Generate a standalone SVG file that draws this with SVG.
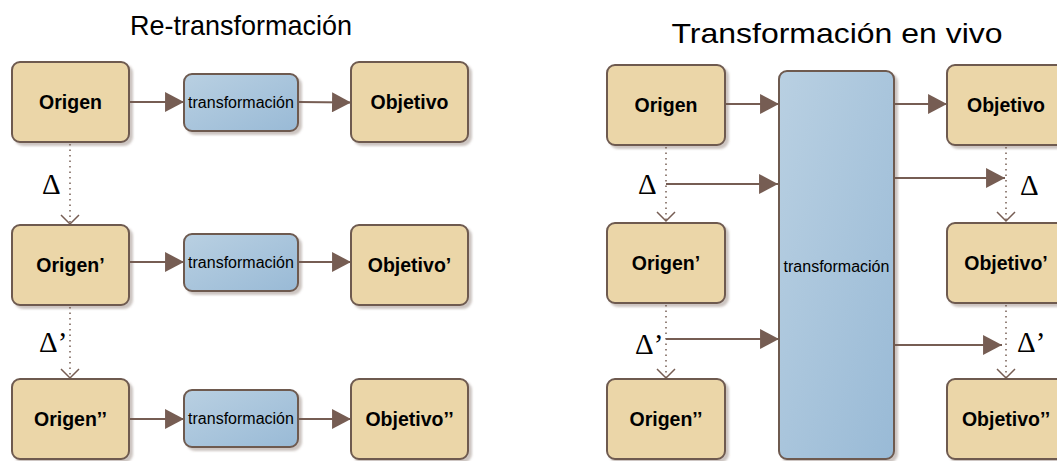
<svg xmlns="http://www.w3.org/2000/svg" width="1057" height="461" viewBox="0 0 1057 461">
<defs>
  <linearGradient id="blue" x1="0" y1="0" x2="1" y2="1">
    <stop offset="0" stop-color="#b9d0e2"/>
    <stop offset="1" stop-color="#99bad6"/>
  </linearGradient>
  <filter id="sh" x="-10%" y="-10%" width="130%" height="130%">
    <feDropShadow dx="3" dy="3" stdDeviation="1" flood-color="#6e5a50" flood-opacity="0.35"/>
  </filter>
  <marker id="tri" markerUnits="userSpaceOnUse" markerWidth="20" markerHeight="20" viewBox="0 0 18 19" refX="18" refY="9.5" orient="auto">
    <path d="M0,0 L18,9.5 L0,19 Z" fill="#765d53"/>
  </marker>
</defs>
<style>
  .box { fill: #ebd6a8; stroke: #6e5a50; stroke-width: 2; filter: url(#sh); }
  .tr { fill: url(#blue); stroke: #6e5a50; stroke-width: 2; filter: url(#sh); }
  .lbl { font-family: "Liberation Sans", Arial, sans-serif; font-weight: bold; font-size: 19.5px; fill: #000; text-anchor: middle; }
  .tl { font-family: "Liberation Sans", Arial, sans-serif; font-size: 16px; fill: #000; text-anchor: middle; }
  .title { font-family: "Liberation Sans", Arial, sans-serif; font-size: 28px; fill: #000; text-anchor: middle; }
  .delta { font-family: "Liberation Serif", "Times New Roman", serif; font-size: 29px; fill: #000; }
  .arr { fill: none; stroke: #765d53; stroke-width: 2; marker-end: url(#tri); }
  .dot { fill: none; stroke: #765d53; stroke-width: 1.5; stroke-dasharray: 1.5 4; }
  .vee { fill: none; stroke: #765d53; stroke-width: 1.5; }
</style>

<text class="title" x="241" y="35" textLength="222" lengthAdjust="spacingAndGlyphs">Re-transformación</text>
<text class="title" x="837" y="43" textLength="331" lengthAdjust="spacingAndGlyphs">Transformación en vivo</text>

<g id="connectors">
  <path class="arr" d="M129,102 L184,102"/>
  <path class="arr" d="M298,102 L351,102.5"/>
  <path class="arr" d="M129,262 L184,262"/>
  <path class="arr" d="M298,262 L351,262"/>
  <path class="arr" d="M129,419 L184,419"/>
  <path class="arr" d="M298,419 L351,419"/>
  <path class="dot" d="M70,144 L70,223"/>
  <path class="vee" d="M61,215 L70,224 L79,215"/>
  <path class="dot" d="M70,307 L70,378"/>
  <path class="vee" d="M61,369 L70,378 L79,369"/>
  <path class="arr" d="M725,104 L779,104"/>
  <path class="arr" d="M666,184 L778,184"/>
  <path class="arr" d="M666,339 L779,339"/>
  <path class="arr" d="M894,104 L947,104"/>
  <path class="arr" d="M894,178 L1005,178"/>
  <path class="arr" d="M890,345 L1002,345"/>
  <path class="dot" d="M666,147 L666,221"/>
  <path class="vee" d="M657,212 L666,221 L675,212"/>
  <path class="dot" d="M666,305 L666,378"/>
  <path class="vee" d="M657,369 L666,378 L675,369"/>
  <path class="dot" d="M1006,147 L1006,221"/>
  <path class="vee" d="M997,212 L1006,221 L1015,212"/>
  <path class="dot" d="M1006,305 L1006,378"/>
  <path class="vee" d="M997,369 L1006,378 L1015,369"/>
</g>

<g id="deltas">
  <text class="delta" x="42" y="194">Δ</text>
  <text class="delta" x="39" y="352">Δ’</text>
  <text class="delta" x="638" y="194">Δ</text>
  <text class="delta" x="635" y="354">Δ’</text>
  <text class="delta" x="1020" y="195">Δ</text>
  <text class="delta" x="1017" y="352">Δ’</text>
</g>

<g id="origen1"><rect class="box" x="12" y="62" width="117" height="80" rx="8"/><text class="lbl" x="70.5" y="108.5">Origen</text></g>
<g id="trans1"><rect class="tr" x="184" y="74" width="114" height="57" rx="8"/><text class="tl" x="241" y="108">transformación</text></g>
<g id="objetivo1"><rect class="box" x="351" y="62" width="117" height="80" rx="8"/><text class="lbl" x="409.5" y="108.5">Objetivo</text></g>

<g id="origen2"><rect class="box" x="12" y="225" width="117" height="80" rx="8"/><text class="lbl" x="70.5" y="271.5">Origen’</text></g>
<g id="trans2"><rect class="tr" x="184" y="234" width="114" height="57" rx="8"/><text class="tl" x="241" y="268">transformación</text></g>
<g id="objetivo2"><rect class="box" x="351" y="225" width="117" height="80" rx="8"/><text class="lbl" x="409.5" y="271.5">Objetivo’</text></g>

<g id="origen3"><rect class="box" x="12" y="379" width="117" height="80" rx="8"/><text class="lbl" x="70.5" y="425.5">Origen’’</text></g>
<g id="trans3"><rect class="tr" x="184" y="390" width="114" height="57" rx="8"/><text class="tl" x="241" y="424">transformación</text></g>
<g id="objetivo3"><rect class="box" x="351" y="379" width="117" height="80" rx="8"/><text class="lbl" x="409.5" y="425.5">Objetivo’’</text></g>

<g id="r-origen1"><rect class="box" x="607" y="65" width="118" height="80" rx="8"/><text class="lbl" x="666" y="111.5">Origen</text></g>
<g id="r-origen2"><rect class="box" x="607" y="223" width="118" height="80" rx="8"/><text class="lbl" x="666" y="269.5">Origen’</text></g>
<g id="r-origen3"><rect class="box" x="607" y="379" width="118" height="80" rx="8"/><text class="lbl" x="666" y="425.5">Origen’’</text></g>
<g id="r-trans"><rect class="tr" x="779" y="71" width="115" height="388" rx="8"/><text class="tl" x="836.5" y="272">transformación</text></g>
<g id="r-objetivo1"><rect class="box" x="947" y="65" width="118" height="80" rx="8"/><text class="lbl" x="1006" y="111.5">Objetivo</text></g>
<g id="r-objetivo2"><rect class="box" x="947" y="223" width="118" height="80" rx="8"/><text class="lbl" x="1006" y="269.5">Objetivo’</text></g>
<g id="r-objetivo3"><rect class="box" x="947" y="379" width="118" height="80" rx="8"/><text class="lbl" x="1006" y="425.5">Objetivo’’</text></g>
</svg>
